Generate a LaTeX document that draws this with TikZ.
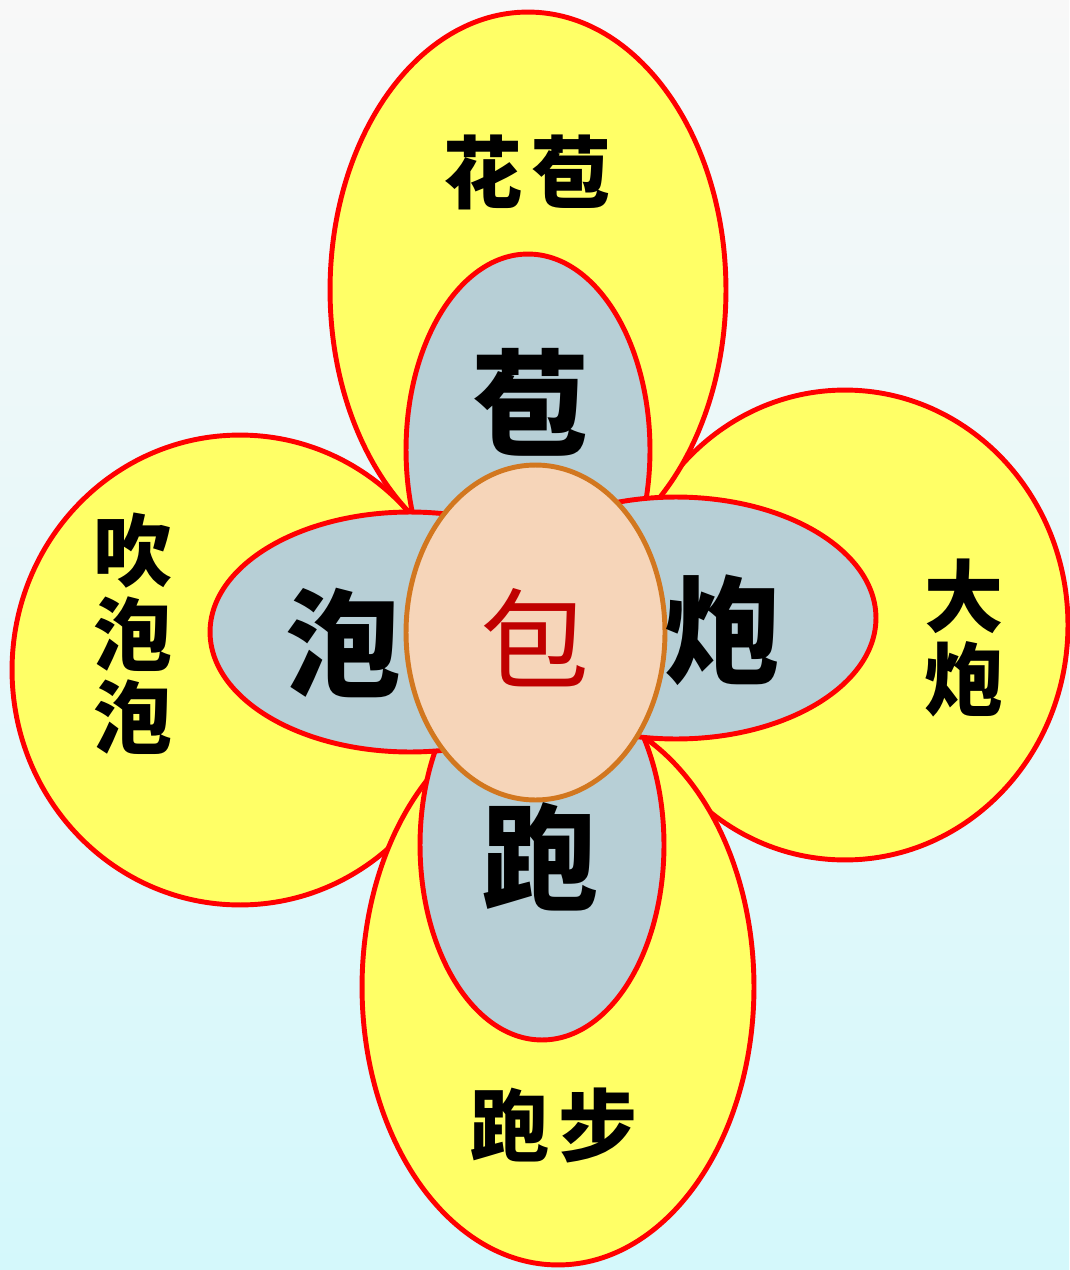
\documentclass[tikz,border=0pt]{standalone}
\usepackage{fontspec}
\usepackage{xcolor}
\usepackage{tikz}
\usetikzlibrary{shapes.geometric}
\newfontfamily\cjk{Noto Sans CJK SC}
\definecolor{petalyellow}{HTML}{FFFF66}
\definecolor{petalred}{HTML}{FF0000}
\definecolor{leafgray}{HTML}{B7CFD6}
\definecolor{coresalmon}{HTML}{F6D5B9}
\definecolor{coreorange}{HTML}{D2771F}
\definecolor{coretext}{HTML}{C00000}
\definecolor{skytop}{HTML}{F8F8F8}
\definecolor{skybottom}{HTML}{D4F8FB}

\begin{document}
\begin{tikzpicture}[
  x=0.02cm, y=-0.02cm,
  outerpetal/.style={ellipse, draw=petalred, fill=petalyellow, line width=2.8pt, inner sep=0pt},
  innerpetal/.style={ellipse, draw=petalred, fill=leafgray, line width=2.8pt, inner sep=0pt},
  core/.style={ellipse, draw=coreorange, fill=coresalmon, line width=2.8pt, inner sep=0pt},
  word/.style={font=\cjk\bfseries\fontsize{45}{47.6}\selectfont, align=center, inner sep=0pt},
  bigchar/.style={font=\cjk\bfseries\fontsize{66}{68}\selectfont, inner sep=0pt}
]
% background
\useasboundingbox (0,0) rectangle (1069,1270);
\shade[top color=skytop, bottom color=skybottom] (0,0) rectangle (1069,1270);

% outer petals
\node[outerpetal, minimum width=9.12cm, minimum height=9.4cm]  (yleft)   at (240,670) {};
\node[outerpetal, minimum width=8.92cm, minimum height=9.4cm]  (yright)  at (845,625) {};
\node[outerpetal, minimum width=7.92cm, minimum height=11.12cm] (ytop)    at (528,290) {};
\node[outerpetal, minimum width=7.84cm, minimum height=11.12cm] (ybottom) at (558,987) {};

% inner petals
\node[innerpetal, minimum width=4.88cm, minimum height=7.84cm] (gtop)    at (528,450) {};
\node[innerpetal, minimum width=4.88cm, minimum height=7.8cm]  (gbottom) at (542,845) {};
\node[innerpetal, minimum width=8.0cm,  minimum height=4.8cm]  (gleft)   at (410,632) {};
\node[innerpetal, minimum width=8.0cm,  minimum height=4.84cm] (gright)  at (676,618) {};

% centre
\node[core, minimum width=5.18cm, minimum height=6.7cm] (centre) at (535.5,632.5) {};

% words
\node[word] (huabao) at (527,172)  {花\hspace{5pt}苞};
\node[word] (chuipao) at (133,634) {吹\\泡\\泡};
\node[word] (dapao)  at (964,638)  {大\\炮};
\node[word] (paobu)  at (554,1125) {跑\hspace{5pt}步};

% characters
\node[bigchar] (bao)   at (530,402) {苞};
\node[bigchar] (pao)   at (343,643) {泡};
\node[bigchar] (paoh)  at (722,630) {炮};
\node[bigchar] (paoz)  at (540,857) {跑};
\node[font=\cjk\fontsize{62}{64}\selectfont, text=coretext, inner sep=0pt] (root) at (535,638) {包};
\end{tikzpicture}
\end{document}
